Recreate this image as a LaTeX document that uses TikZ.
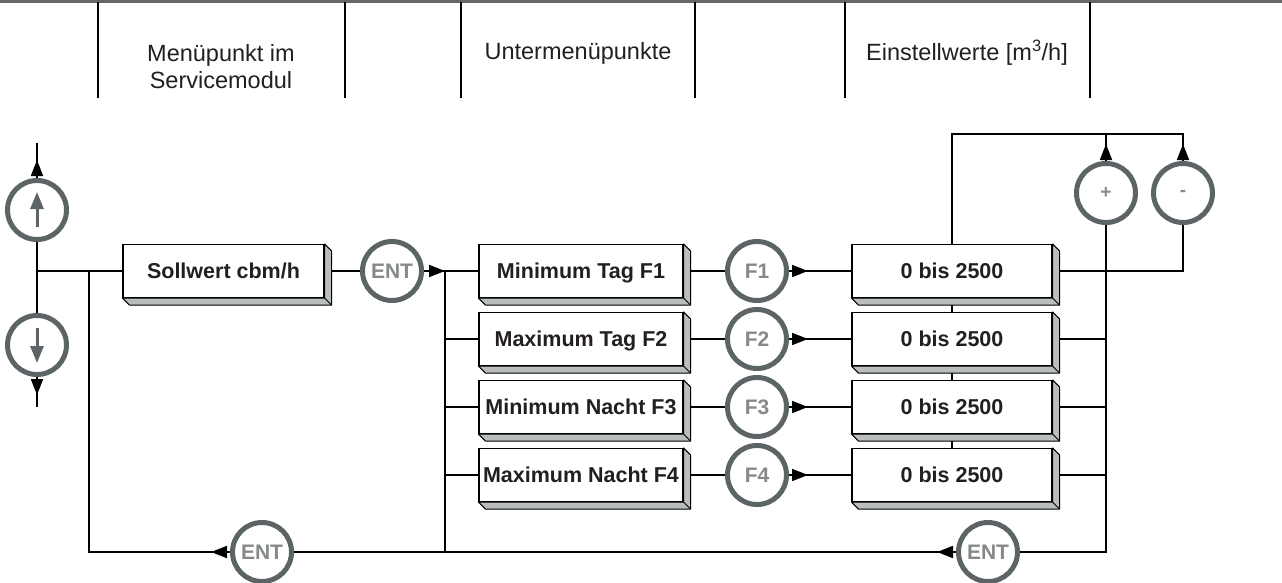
\documentclass[tikz,border=0pt]{standalone}
\usepackage{fontspec}
\setmainfont{Liberation Sans}
\usetikzlibrary{arrows.meta,calc}
\pgfdeclarelayer{bg}
\pgfsetlayers{bg,main}
\definecolor{ring}{HTML}{5D6466}
\definecolor{ringtxt}{HTML}{85898A}
\definecolor{face}{HTML}{B9BDBE}
\definecolor{txt}{HTML}{231F20}
\begin{document}
\begin{tikzpicture}[x=1pt,y=-1pt,
  conn/.style={line width=1.8pt, black},
  arr/.style={-{Triangle[length=16pt,width=12pt]}, line width=1.8pt, black},
  stepbox/.style={draw=black, line width=1.1pt, fill=white, minimum height=53pt, inner sep=0pt, text height=15pt, text depth=0pt, font=\fontsize{21.5}{24}\selectfont\bfseries, text=txt},
  key/.style={circle, draw=ring, line width=5pt, fill=white, minimum size=59pt, inner sep=0pt, text=ringtxt, font=\fontsize{21}{22}\selectfont\bfseries},
  fkey/.style={key, font=\fontsize{21}{22}\selectfont\bfseries},
  pmkey/.style={key, font=\fontsize{19}{20}\selectfont\bfseries},
  facefill/.style={fill=face, draw=black, line width=1pt, line join=round},
  hdr/.style={font=\fontsize{23.5}{27}\selectfont, text=txt, align=center},
  hline/.style={line width=1.5pt, black},
  inarr/.style={draw=ring, line width=3pt, -{Triangle[length=17pt,width=13pt]}}]

\useasboundingbox (0,0) rectangle (1282,583);

% header
\draw[line width=3pt, black!60] (0,2) -- (1282,2);
\foreach \hx in {98,345,461,695,845,1090} \draw[hline] (\hx,2) -- (\hx,98);
\node[hdr] (h1) at (221,66.5) {Menüpunkt im\\Servicemodul};
\node[hdr] (h2) at (578,53) {Untermenüpunkte};
\node[hdr] (h3) at (967,53) {Einstellwerte [m\textsuperscript{3}/h]};

% boxes
\node[stepbox, minimum width=201pt] (S) at (223.5,271) {Sollwert cbm/h};
\node[stepbox, minimum width=204pt] (L1) at (581,271) {Minimum Tag F1};
\node[stepbox, minimum width=204pt] (L2) at (581,339) {Maximum Tag F2};
\node[stepbox, minimum width=204pt] (L3) at (581,407) {Minimum Nacht F3};
\node[stepbox, minimum width=204pt] (L4) at (581,475) {Maximum Nacht F4};
\node[stepbox, minimum width=200pt] (R1) at (952,271) {0 bis 2500};
\node[stepbox, minimum width=200pt] (R2) at (952,339) {0 bis 2500};
\node[stepbox, minimum width=200pt] (R3) at (952,407) {0 bis 2500};
\node[stepbox, minimum width=200pt] (R4) at (952,475) {0 bis 2500};
\foreach \b in {S,L1,L2,L3,L4,R1,R2,R3,R4} {
  \draw[facefill] (\b.north east) -- ($(\b.north east)+(7,7)$) -- ($(\b.south east)+(7,7)$) -- ($(\b.south west)+(7,7)$) -- (\b.south west) -- (\b.south east) -- cycle;
  \draw[line width=1pt] (\b.south east) -- ($(\b.south east)+(7,7)$);
}

% keys
\node[key] (U) at (37,210) {};
\node[key] (D) at (37,345) {};
\draw[inarr] ($(U.center)+(0,17)$) -- ($(U.center)+(0,-18)$);
\draw[inarr] ($(D.center)+(0,-17)$) -- ($(D.center)+(0,18)$);
\node[key] (E1) at (392,271) {ENT};
\node[fkey] (F1) at (757,271) {F1};
\node[fkey] (F2) at (757,339) {F2};
\node[fkey] (F3) at (757,407) {F3};
\node[fkey] (F4) at (757,475) {F4};
\node[pmkey] (P) at (1106,193) {+};
\node[pmkey] (M) at (1183,193) {-};
\node[key] (E2) at (262,552) {ENT};
\node[key] (E3) at (988,552) {ENT};

% coordinates
\coordinate (topU) at (37,143);
\coordinate (botD) at (37,407);
\coordinate (j0) at (37,271);
\coordinate (j1) at (89,271);
\coordinate (b1) at (89,552);
\coordinate (j2) at (445,271);
\coordinate (b2) at (445,552);
\coordinate (t0) at (952,134);
\coordinate (t1) at (1106,134);
\coordinate (t2) at (1183,134);
\coordinate (m1) at (1183,271);
\coordinate (b3) at (1106,552);

\begin{pgfonlayer}{bg}
  \draw[conn] (topU) -- (botD);
  \draw[conn] (j0) -- (S.west);
  \draw[conn] (j1) -- (b1) -- (b3) -- (P.south);
  \draw[conn] (S.east) -- (E1) -- (j2) -- (b2);
  \foreach \k in {1,2,3,4} {
    \draw[conn] (L\k.west -| j2) -- (L\k.west);
    \draw[conn] (L\k.east) -- (F\k) -- (R\k.west);
  }
  \foreach \k in {2,3,4} \draw[conn] (R\k.east) -- (R\k.east -| b3);
  \draw[conn] (R1.east) -- (m1) -- (M.south);
  \draw[conn] (R4.north) -- (t0) -- (t2) -- (M.north);
  \draw[conn] (t1) -- (P.north);
\end{pgfonlayer}

% arrowheads
\draw[arr] ($(U.north)+(0,-2)$) -- ++(0,-16);
\draw[arr] ($(D.south)+(0,2)$) -- ++(0,16);
\draw[arr] ($(E1.east)+(2,0)$) -- ++(19,0);
\foreach \k in {1,2,3,4} \draw[arr] ($(F\k.east)+(2,0)$) -- ++(17,0);
\draw[arr] ($(P.north)+(0,-2)$) -- ++(0,-15);
\draw[arr] ($(M.north)+(0,-2)$) -- ++(0,-15);
\draw[arr] ($(E2.west)+(-2,0)$) -- ++(-17,0);
\draw[arr] ($(E3.west)+(-2,0)$) -- ++(-17,0);
\end{tikzpicture}
\end{document}
